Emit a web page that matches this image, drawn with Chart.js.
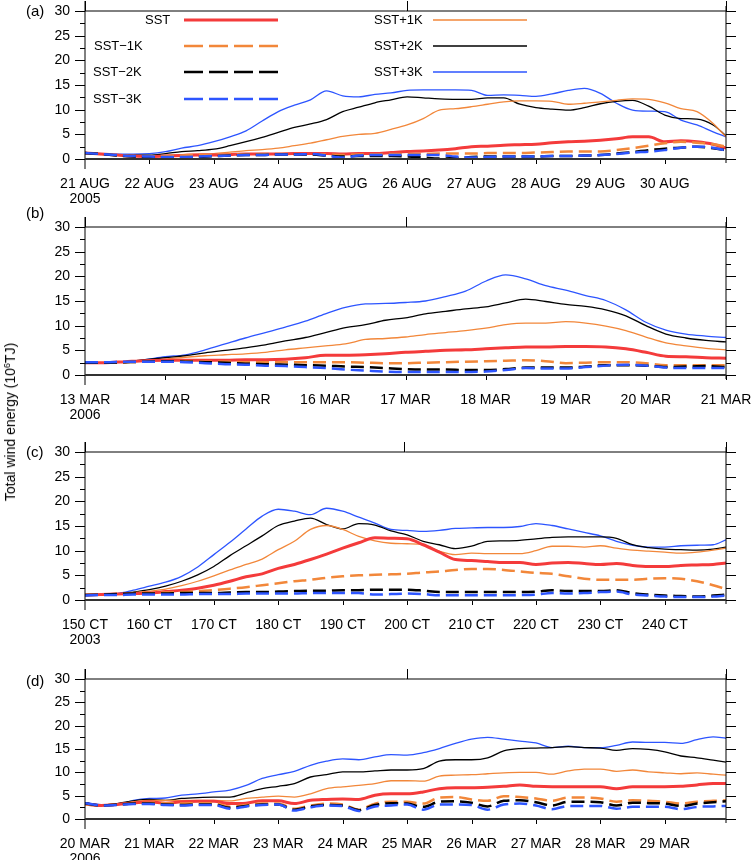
<!DOCTYPE html>
<html>
<head>
<meta charset="utf-8">
<script src="https://cdn.jsdelivr.net/npm/chart.js@4.4.1/dist/chart.umd.min.js"></script>
<style>
  body { margin: 0; background: #fff; width: 753px; height: 860px; position: relative; overflow: hidden;
         font-family: 'Liberation Sans', Arial, Helvetica, sans-serif; color: #000; }
  canvas { position: absolute; left: 0; }
  .txt { position: absolute; font-size: 13px; line-height: 16px; white-space: nowrap; }
  .plab { position: absolute; font-size: 15px; line-height: 18px; }
  #ytitle { position: absolute; font-size: 14px; white-space: nowrap; left: 10px; top: 422px;
            transform: translate(-50%, -50%) rotate(-90deg); }
  #ytitle sup { font-size: 9px; vertical-align: 5px; line-height: 0; }
  svg { position: absolute; left: 0; top: 0; }
</style>
</head>
<body>
<canvas id="ca" width="753" height="217" style="top:0px"></canvas>
<canvas id="cb" width="753" height="217" style="top:216px"></canvas>
<canvas id="cc" width="753" height="217" style="top:441px"></canvas>
<canvas id="cd" width="753" height="209" style="top:668px"></canvas>

<div class="plab" style="left:26px;top:2px">(a)</div>
<div class="plab" style="left:26px;top:204px">(b)</div>
<div class="plab" style="left:26px;top:443px">(c)</div>
<div class="plab" style="left:26px;top:672px">(d)</div>
<div id="ytitle">Total wind energy (10<sup>6</sup>TJ)</div>

<div class="txt" style="left:145px;top:12px">SST</div>
<div class="txt" style="left:94px;top:38px">SST−1K</div>
<div class="txt" style="left:93px;top:64px">SST−2K</div>
<div class="txt" style="left:93px;top:91px">SST−3K</div>
<div class="txt" style="left:374px;top:12px">SST+1K</div>
<div class="txt" style="left:374px;top:38px">SST+2K</div>
<div class="txt" style="left:374px;top:64px">SST+3K</div>
<svg width="753" height="120">
  <line x1="184" y1="20" x2="278" y2="20" stroke="#f43b3b" stroke-width="3"/>
  <line x1="184" y1="46" x2="278" y2="46" stroke="#f2873a" stroke-width="2.5" stroke-dasharray="19 6"/>
  <line x1="184" y1="72" x2="278" y2="72" stroke="#000" stroke-width="2.5" stroke-dasharray="19 6"/>
  <line x1="184" y1="99" x2="278" y2="99" stroke="#2d55ff" stroke-width="2.5" stroke-dasharray="19 6"/>
  <line x1="433" y1="20" x2="527" y2="20" stroke="#f2873a" stroke-width="1.3"/>
  <line x1="433" y1="46" x2="527" y2="46" stroke="#000" stroke-width="1.3"/>
  <line x1="433" y1="72" x2="527" y2="72" stroke="#2d55ff" stroke-width="1.3"/>
</svg>

<script>
// ---------- panel (a): 21-31 AUG 2005 ----------
const aTimes = [21, 21.25, 21.5, 21.75, 22, 22.25, 22.5, 22.75, 23, 23.25, 23.5, 23.75, 24, 24.25, 24.5, 24.75,
  25, 25.25, 25.5, 25.75, 26, 26.25, 26.5, 26.75, 27, 27.25, 27.5, 27.75, 28, 28.25, 28.5, 28.75,
  29, 29.25, 29.5, 29.75, 30, 30.25, 30.5, 30.75, 30.95];
const aSST = [1.2, 1.0, 0.8, 0.6, 0.5, 0.6, 0.7, 0.8, 0.8, 0.9, 1.0, 1.0, 1.0, 1.1, 1.1, 1.1,
  1.0, 1.1, 1.1, 1.3, 1.5, 1.6, 1.8, 2.1, 2.5, 2.6, 2.8, 2.9, 3.0, 3.3, 3.5, 3.6,
  3.8, 4.1, 4.5, 4.5, 3.5, 3.7, 3.5, 3.0, 2.2];
const aM1 = [1.2, 1.0, 0.8, 0.6, 0.5, 0.6, 0.7, 0.8, 0.8, 0.9, 0.9, 1.0, 1.0, 1.0, 0.9, 0.9,
  0.8, 0.9, 0.9, 1.0, 1.0, 1.0, 1.1, 1.1, 1.1, 1.2, 1.2, 1.2, 1.3, 1.4, 1.5, 1.5,
  1.5, 1.8, 2.2, 2.7, 3.2, 3.5, 3.3, 3.0, 2.5];
const aM2 = [1.2, 1.0, 0.7, 0.5, 0.4, 0.3, 0.2, 0.4, 0.6, 0.7, 0.8, 0.8, 0.9, 0.9, 0.9, 0.7,
  0.5, 0.6, 0.6, 0.6, 0.5, 0.3, 0.1, 0.2, 0.4, 0.5, 0.5, 0.5, 0.5, 0.6, 0.6, 0.7,
  0.8, 1.1, 1.4, 1.8, 2.1, 2.3, 2.5, 2.2, 1.8];
const aM3 = [1.2, 1.0, 0.8, 0.6, 0.5, 0.4, 0.4, 0.5, 0.6, 0.7, 0.8, 0.8, 0.9, 0.9, 1.0, 0.7,
  0.3, 0.7, 0.8, 0.8, 0.8, 0.8, 0.8, 0.5, 0.3, 0.4, 0.5, 0.5, 0.5, 0.6, 0.6, 0.7,
  0.8, 1.0, 1.3, 1.5, 1.8, 2.3, 2.5, 2.3, 1.7];
const aP1 = [1.1, 0.9, 0.8, 0.7, 0.6, 0.7, 0.9, 1.0, 1.1, 1.4, 1.7, 1.9, 2.2, 2.7, 3.2, 3.9,
  4.6, 5.0, 5.2, 6.0, 6.9, 8.2, 9.9, 10.2, 10.6, 11.1, 11.6, 11.8, 11.8, 11.7, 11.1, 11.3,
  11.6, 11.9, 12.2, 12.1, 11.4, 10.2, 9.6, 7.2, 4.5];
const aP2 = [1.1, 1.0, 0.9, 0.8, 0.8, 1.1, 1.5, 1.7, 2.0, 2.7, 3.5, 4.4, 5.4, 6.4, 7.1, 8.0,
  9.6, 10.5, 11.4, 12.0, 12.6, 12.4, 12.2, 12.1, 12.1, 12.4, 12.4, 11.1, 10.4, 10.1, 9.9, 10.4,
  11.2, 11.7, 11.9, 10.7, 8.9, 8.2, 8.1, 6.9, 4.7];
const aP3 = [1.3, 1.1, 1.0, 1.0, 1.1, 1.5, 2.2, 2.7, 3.5, 4.5, 5.7, 7.7, 9.6, 10.9, 12.0, 13.8,
  12.8, 12.6, 13.1, 13.4, 13.9, 14.0, 14.0, 14.0, 13.9, 12.9, 13.0, 12.9, 12.7, 13.2, 13.9, 14.3,
  13.3, 11.3, 9.9, 9.7, 9.6, 7.9, 6.9, 5.5, 4.5];
const aTickVals = [21, 22, 23, 24, 25, 26, 27, 28, 29, 30];
const aTickLabels = [['21 AUG', '2005'], '22 AUG', '23 AUG', '24 AUG', '25 AUG', '26 AUG', '27 AUG', '28 AUG', '29 AUG', '30 AUG'];

// ---------- panel (b): 13-21 MAR 2006 ----------
const bTimes = [13, 13.25, 13.5, 13.75, 14, 14.25, 14.5, 14.75, 15, 15.25, 15.5, 15.75, 16, 16.25, 16.5, 16.75,
  17, 17.25, 17.5, 17.75, 18, 18.25, 18.5, 18.75, 19, 19.25, 19.5, 19.75, 20, 20.25, 20.5, 20.75, 21];
const bSST = [2.5, 2.5, 2.7, 2.9, 3.0, 3.0, 3.0, 3.0, 3.1, 3.1, 3.2, 3.5, 4.0, 4.0, 4.1, 4.3,
  4.6, 4.8, 5.0, 5.1, 5.3, 5.5, 5.7, 5.7, 5.8, 5.8, 5.7, 5.3, 4.6, 3.8, 3.7, 3.5, 3.4];
const bM1 = [2.5, 2.5, 2.6, 2.7, 2.8, 2.8, 2.7, 2.7, 2.6, 2.6, 2.6, 2.6, 2.6, 2.6, 2.5, 2.4,
  2.4, 2.5, 2.6, 2.7, 2.8, 2.9, 3.0, 2.8, 2.4, 2.5, 2.6, 2.6, 2.4, 2.0, 2.0, 2.0, 2.0];
const bM2 = [2.5, 2.5, 2.6, 2.7, 2.8, 2.7, 2.6, 2.5, 2.3, 2.2, 2.1, 2.0, 1.9, 1.7, 1.6, 1.4,
  1.2, 1.1, 1.1, 1.0, 1.0, 1.2, 1.5, 1.5, 1.5, 1.7, 2.0, 2.0, 1.9, 1.6, 1.7, 1.8, 1.6];
const bM3 = [2.6, 2.6, 2.7, 2.7, 2.7, 2.6, 2.4, 2.2, 2.1, 1.9, 1.8, 1.6, 1.4, 1.1, 0.9, 0.7,
  0.6, 0.6, 0.6, 0.6, 0.7, 1.0, 1.4, 1.3, 1.3, 1.6, 1.9, 2.1, 1.9, 1.5, 1.4, 1.4, 1.4];
const bP1 = [2.5, 2.5, 2.6, 2.9, 3.2, 3.6, 3.9, 4.1, 4.3, 4.6, 5.1, 5.5, 5.9, 6.3, 7.2, 7.4,
  7.7, 8.2, 8.6, 9.0, 9.5, 10.2, 10.5, 10.5, 10.8, 10.5, 9.9, 9.0, 7.7, 6.5, 5.9, 5.4, 5.1];
const bP2 = [2.5, 2.5, 2.7, 3.1, 3.5, 3.9, 4.5, 5.0, 5.5, 6.1, 6.9, 7.6, 8.6, 9.6, 10.2, 11.1,
  11.6, 12.4, 12.9, 13.4, 13.8, 14.6, 15.4, 14.9, 14.3, 13.9, 13.2, 12.0, 10.0, 8.3, 7.5, 7.0, 6.7];
const bP3 = [2.5, 2.5, 2.6, 3.1, 3.7, 4.1, 5.1, 6.3, 7.5, 8.6, 9.7, 10.9, 12.4, 13.7, 14.4, 14.5,
  14.7, 15.0, 15.9, 17.0, 19.0, 20.3, 19.5, 18.1, 17.2, 16.1, 15.1, 13.2, 10.7, 9.1, 8.3, 7.9, 7.6];
const bTickVals = [13, 14, 15, 16, 17, 18, 19, 20, 21];
const bTickLabels = [['13 MAR', '2006'], '14 MAR', '15 MAR', '16 MAR', '17 MAR', '18 MAR', '19 MAR', '20 MAR', '21 MAR'];

// ---------- panel (c): 150-250 CT 2003 ----------
const cTimes = [150, 152.5, 155, 157.5, 160, 162.5, 165, 167.5, 170, 172.5, 175, 177.5, 180, 182.5, 185, 187.5,
  190, 192.5, 195, 197.5, 200, 202.5, 205, 207.5, 210, 212.5, 215, 217.5, 220, 222.5, 225, 227.5,
  230, 232.5, 235, 237.5, 240, 242.5, 245, 247.5, 249.5];
const cSST = [1.0, 1.1, 1.2, 1.3, 1.4, 1.7, 2.0, 2.4, 3.0, 3.8, 4.7, 5.3, 6.4, 7.2, 8.2, 9.3,
  10.5, 11.6, 12.6, 12.5, 12.4, 11.2, 9.7, 8.2, 8.0, 7.8, 7.6, 7.6, 7.2, 7.5, 7.6, 7.4,
  7.2, 7.4, 7.0, 6.8, 6.8, 7.0, 7.1, 7.2, 7.5];
const cM1 = [1.0, 1.1, 1.2, 1.3, 1.4, 1.5, 1.6, 1.8, 2.0, 2.3, 2.6, 3.0, 3.4, 3.8, 4.1, 4.5,
  4.8, 5.0, 5.1, 5.2, 5.3, 5.6, 5.8, 6.1, 6.3, 6.3, 6.1, 5.8, 5.5, 5.3, 4.8, 4.3,
  4.1, 4.1, 4.1, 4.3, 4.4, 4.3, 3.8, 3.0, 2.2];
const cM2 = [1.0, 1.1, 1.2, 1.3, 1.3, 1.3, 1.4, 1.4, 1.4, 1.5, 1.6, 1.6, 1.7, 1.8, 1.9, 1.9,
  2.0, 2.0, 2.1, 2.1, 2.1, 1.9, 1.6, 1.6, 1.6, 1.6, 1.6, 1.6, 1.7, 2.0, 1.8, 1.8,
  1.8, 2.0, 1.4, 1.1, 0.9, 0.8, 0.7, 0.9, 1.1];
const cM3 = [0.9, 1.0, 1.0, 1.1, 1.1, 1.1, 1.1, 1.2, 1.2, 1.2, 1.3, 1.3, 1.3, 1.3, 1.4, 1.4,
  1.4, 1.4, 1.1, 1.2, 1.3, 1.2, 0.95, 0.95, 0.95, 0.95, 0.95, 1.0, 1.1, 1.4, 1.3, 1.4,
  1.6, 1.7, 1.1, 0.9, 0.7, 0.6, 0.6, 0.7, 0.9];
const cP1 = [1.0, 1.1, 1.2, 1.5, 1.8, 2.2, 2.9, 3.8, 4.9, 6.1, 7.2, 8.3, 10.2, 11.9, 14.3, 15.1,
  14.3, 12.9, 12.0, 11.5, 11.4, 11.2, 9.9, 9.2, 9.5, 9.4, 9.4, 9.4, 10.0, 10.9, 10.9, 10.7,
  11.0, 10.5, 10.1, 9.9, 9.7, 9.5, 9.7, 10.1, 10.5];
const cP2 = [1.0, 1.1, 1.2, 1.6, 2.1, 2.8, 3.8, 5.1, 6.8, 9.0, 11.0, 13.0, 15.1, 16.0, 16.6, 15.3,
  14.4, 15.5, 15.2, 14.0, 13.2, 11.9, 11.2, 10.4, 10.9, 11.9, 12.0, 12.1, 12.4, 12.7, 12.8, 12.8,
  12.8, 12.5, 11.2, 10.6, 10.3, 10.2, 10.1, 10.3, 10.7];
const cP3 = [1.0, 1.1, 1.3, 2.0, 2.8, 3.6, 4.8, 6.7, 9.2, 11.7, 14.4, 17.0, 18.4, 18.0, 17.3, 18.6,
  18.0, 16.8, 15.6, 14.3, 14.1, 13.9, 14.1, 14.5, 14.6, 14.7, 14.7, 14.9, 15.5, 15.1, 14.4, 13.7,
  13.0, 11.9, 11.1, 10.7, 10.7, 11.0, 11.1, 11.2, 12.2];
const cTickVals = [150, 160, 170, 180, 190, 200, 210, 220, 230, 240];
const cTickLabels = [['150 CT', '2003'], '160 CT', '170 CT', '180 CT', '190 CT', '200 CT', '210 CT', '220 CT', '230 CT', '240 CT'];

// ---------- panel (d): 20-30 MAR 2006 ----------
const dTimes = [20, 20.25, 20.5, 20.75, 21, 21.25, 21.5, 21.75, 22, 22.25, 22.5, 22.75, 23, 23.25, 23.5, 23.75,
  24, 24.25, 24.5, 24.75, 25, 25.25, 25.5, 25.75, 26, 26.25, 26.5, 26.75, 27, 27.25, 27.5, 27.75,
  28, 28.25, 28.5, 28.75, 29, 29.25, 29.5, 29.75, 29.95];
const dSST = [3.2, 2.9, 3.1, 3.4, 3.7, 3.4, 3.7, 3.8, 3.8, 3.3, 3.4, 3.9, 3.9, 3.3, 4.0, 4.2,
  4.3, 4.2, 5.1, 5.4, 5.4, 5.8, 6.5, 6.7, 6.7, 6.8, 7.0, 7.3, 7.0, 6.9, 6.9, 6.9,
  6.9, 6.5, 6.9, 6.9, 6.9, 7.0, 7.3, 7.6, 7.6];
const dM1 = [3.2, 2.9, 3.1, 3.3, 3.5, 3.4, 3.3, 3.4, 3.4, 2.6, 3.0, 3.3, 3.3, 2.2, 2.9, 3.3,
  3.1, 2.0, 3.3, 3.7, 3.7, 3.3, 4.6, 4.7, 4.2, 3.9, 4.9, 4.7, 4.4, 3.9, 4.6, 4.6,
  4.4, 3.7, 4.0, 3.9, 3.7, 3.3, 3.7, 3.9, 4.0];
const dM2 = [3.3, 2.9, 3.1, 3.3, 3.3, 3.1, 3.0, 3.1, 3.1, 2.4, 2.8, 3.1, 3.1, 2.0, 2.7, 3.0,
  2.9, 1.9, 3.0, 3.4, 3.3, 2.6, 3.7, 3.8, 3.5, 2.7, 3.9, 4.0, 3.6, 2.9, 3.7, 3.7,
  3.6, 2.9, 3.5, 3.4, 3.3, 2.8, 3.3, 3.6, 3.8];
const dM3 = [3.4, 2.9, 3.0, 3.2, 3.2, 3.0, 2.9, 3.0, 3.0, 2.2, 2.7, 3.0, 3.1, 1.8, 2.5, 2.9,
  2.8, 1.7, 2.7, 2.9, 3.1, 2.0, 3.1, 3.1, 3.0, 2.0, 3.1, 3.3, 2.9, 2.1, 2.8, 2.8,
  2.8, 2.2, 2.6, 2.6, 2.6, 2.1, 2.6, 2.7, 2.8];
const dP1 = [3.3, 3.0, 3.2, 3.7, 4.0, 4.0, 4.0, 4.0, 4.0, 3.9, 4.4, 4.7, 4.9, 4.7, 5.4, 6.5,
  6.9, 7.2, 7.6, 8.2, 8.2, 8.1, 9.2, 9.4, 9.5, 9.7, 9.9, 10.0, 10.0, 9.6, 10.3, 10.7,
  10.7, 10.2, 10.5, 10.1, 9.9, 9.7, 9.9, 9.6, 9.4];
const dP2 = [3.5, 3.0, 3.3, 3.9, 4.2, 4.0, 4.4, 4.6, 4.7, 4.7, 5.6, 6.5, 7.0, 7.6, 9.0, 9.5,
  10.1, 10.1, 10.3, 10.5, 10.5, 10.8, 12.4, 12.7, 12.7, 13.1, 14.6, 15.1, 15.2, 15.3, 15.5, 15.3,
  15.2, 14.7, 15.1, 14.9, 14.4, 13.5, 13.1, 12.6, 12.2];
const dP3 = [3.5, 3.1, 3.1, 4.0, 4.4, 4.5, 5.1, 5.4, 5.8, 6.2, 7.2, 8.7, 9.5, 10.2, 11.5, 12.4,
  12.9, 12.7, 13.3, 13.8, 13.7, 14.2, 15.1, 16.2, 17.1, 17.5, 17.1, 16.7, 16.3, 15.3, 15.6, 15.3,
  15.3, 15.8, 16.5, 16.4, 16.4, 16.2, 17.0, 17.6, 17.3];
const dTickVals = [20, 21, 22, 23, 24, 25, 26, 27, 28, 29];
const dTickLabels = [['20 MAR', '2006'], '21 MAR', '22 MAR', '23 MAR', '24 MAR', '25 MAR', '26 MAR', '27 MAR', '28 MAR', '29 MAR'];

const yTicks = [0, 5, 10, 15, 20, 25, 30];

const RED = '#f43b3b', ORANGE = '#f2873a', BLUE = '#2d55ff', BLACK = '#000000';
const FONT = "'Liberation Sans', Arial, Helvetica, sans-serif";

// frame, outward tick marks and minor ticks
const frameTicks = {
  id: 'frameTicks',
  afterDraw(chart, args, opts) {
    const { ctx, chartArea: a, scales: { x, y } } = chart;
    const seg = (x1, y1, x2, y2) => { ctx.beginPath(); ctx.moveTo(x1, y1); ctx.lineTo(x2, y2); ctx.stroke(); };
    ctx.save();
    ctx.strokeStyle = '#000';
    ctx.lineWidth = 1;
    seg(a.left, a.top - 10, a.left, a.bottom + 10);
    seg(a.right, a.top - 5, a.right, a.bottom + 4);
    seg(a.left, a.top, a.right, a.top);
    yTicks.forEach((v, i) => {
      const py = Math.round(y.getPixelForValue(v)) + 0.5;
      seg(a.left - 10, py, a.left, py);
      seg(a.right, py, a.right + 10, py);
      if (i < yTicks.length - 1) {
        const pm = Math.round(y.getPixelForValue((v + yTicks[i + 1]) / 2)) + 0.5;
        seg(a.left - 5, pm, a.left, pm);
        seg(a.right, pm, a.right + 5, pm);
      }
    });
    opts.ticks.forEach((v, i) => {
      const px = Math.round(x.getPixelForValue(v)) + 0.5;
      if (i > 0) seg(px, a.bottom, px, a.bottom + 5);
    });
    opts.top.forEach(v => {
      const px = Math.round(x.getPixelForValue(v)) + 0.5;
      seg(px, a.top - 10, px, a.top);
    });
    ctx.strokeStyle = '#333';
    ctx.lineWidth = 2;
    seg(a.left, a.bottom, a.right, a.bottom);
    ctx.restore();
  }
};

function makePanel(id, times, series, xMin, xMax, tickVals, tickLabels, topTicks, xHeight) {
  const looks = [
    { label: 'SST',    color: RED,    width: 3,   dash: [],      order: 3 },
    { label: 'SST−1K', color: ORANGE, width: 2.5, dash: [13, 6], order: 2 },
    { label: 'SST−2K', color: BLACK,  width: 2.5, dash: [13, 6], order: 1 },
    { label: 'SST−3K', color: BLUE,   width: 2.5, dash: [13, 6], order: 0 },
    { label: 'SST+1K', color: ORANGE, width: 1.3, dash: [],      order: 4 },
    { label: 'SST+2K', color: BLACK,  width: 1.3, dash: [],      order: 5 },
    { label: 'SST+3K', color: BLUE,   width: 1.3, dash: [],      order: 6 }
  ];
  const datasets = series.map((vals, k) => ({
    label: looks[k].label,
    data: times.map((t, i) => ({ x: t, y: vals[i] })),
    borderColor: looks[k].color,
    borderWidth: looks[k].width,
    borderDash: looks[k].dash,
    order: looks[k].order,
    pointRadius: 0,
    cubicInterpolationMode: 'monotone',
    fill: false
  }));

  return new Chart(document.getElementById(id).getContext('2d'), {
    type: 'line',
    data: { datasets },
    options: {
      responsive: false,
      animation: false,
      layout: { padding: { top: 11, right: 27, left: 0, bottom: 0 } },
      plugins: { legend: { display: false }, tooltip: { enabled: false }, frameTicks: { ticks: tickVals, top: topTicks } },
      scales: {
        x: {
          type: 'linear',
          min: xMin,
          max: xMax,
          grid: { display: false, drawTicks: false },
          border: { display: false },
          afterBuildTicks: s => { s.ticks = tickVals.map(v => ({ value: v })); },
          afterFit: s => { s.height = xHeight; s.paddingLeft = 0; s.paddingRight = 0; },
          ticks: {
            autoSkip: false,
            maxRotation: 0,
            padding: 17,
            color: '#000',
            font: { family: FONT, size: 14, lineHeight: 1.1 },
            callback: (v, i) => tickLabels[i]
          }
        },
        y: {
          min: 0,
          max: 30,
          grid: { display: false, drawTicks: false },
          border: { display: false },
          afterBuildTicks: s => { s.ticks = yTicks.map(v => ({ value: v })); },
          afterFit: s => { s.width = 85; s.paddingTop = 0; s.paddingBottom = 0; },
          ticks: {
            padding: 15,
            color: '#000',
            font: { family: FONT, size: 14 }
          }
        }
      }
    },
    plugins: [frameTicks]
  });
}

makePanel('ca', aTimes, [aSST, aM1, aM2, aM3, aP1, aP2, aP3], 21, 30.95, aTickVals, aTickLabels, [21, 26, 30.95], 58);
makePanel('cb', bTimes, [bSST, bM1, bM2, bM3, bP1, bP2, bP3], 13, 21, bTickVals, bTickLabels, [13, 17, 21], 58);
makePanel('cc', cTimes, [cSST, cM1, cM2, cM3, cP1, cP2, cP3], 150, 249.5, cTickVals, cTickLabels, [150, 199.5, 249.5], 58);
makePanel('cd', dTimes, [dSST, dM1, dM2, dM3, dP1, dP2, dP3], 20, 29.95, dTickVals, dTickLabels, [20, 25, 29.95], 58);
</script>
</body>
</html>
